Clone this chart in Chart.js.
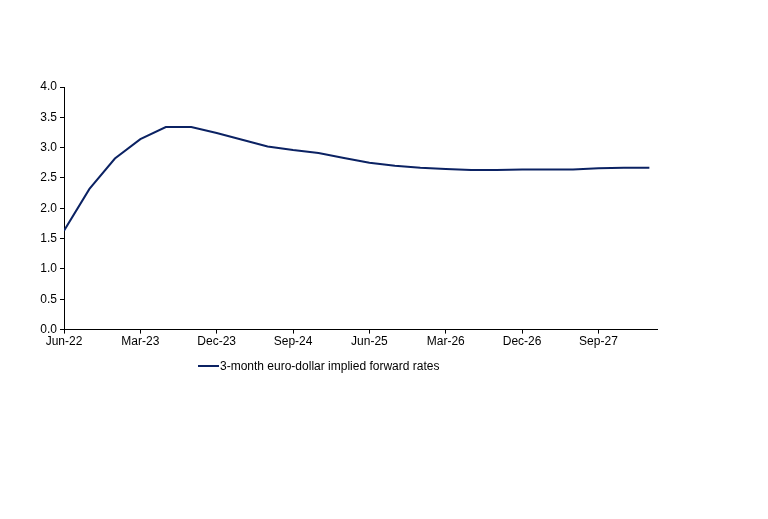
<!DOCTYPE html>
<html>
<head>
<meta charset="utf-8">
<script src="https://cdn.jsdelivr.net/npm/chart.js@4/dist/chart.umd.min.js"></script>
<style>
  body { margin: 0; background: #fff; }
  #wrap { position: relative; width: 768px; height: 519px; }
  #legend { position: absolute; left: 198px; top: 359px; font: 12px "Liberation Sans", Arial, sans-serif; color: #000; display: flex; align-items: center; }
  #legend span.line { display: inline-block; width: 21px; height: 2px; background: #0b2263; margin-right: 1px; }
</style>
</head>
<body>
<div id="wrap">
  <canvas id="chart" width="768" height="519"></canvas>
  <div id="legend"><span class="line"></span><span id="legendText"></span></div>
</div>
<script>
// quarterly points, Jun-22 .. Mar-28
const quarters = ['Jun-22', 'Sep-22', 'Dec-22', 'Mar-23', 'Jun-23', 'Sep-23', 'Dec-23', 'Mar-24',
    'Jun-24', 'Sep-24', 'Dec-24', 'Mar-25', 'Jun-25', 'Sep-25', 'Dec-25', 'Mar-26',
    'Jun-26', 'Sep-26', 'Dec-26', 'Mar-27', 'Jun-27', 'Sep-27', 'Dec-27', 'Mar-28'];
const rates = [1.63, 2.32, 2.82, 3.14, 3.34, 3.34, 3.24, 3.13,
    3.02, 2.96, 2.91, 2.83, 2.75, 2.70, 2.67, 2.65,
    2.63, 2.63, 2.64, 2.64, 2.64, 2.66, 2.67, 2.67];
const seriesName = '3-month euro-dollar implied forward rates';
const yTicks = [0, 0.5, 1, 1.5, 2, 2.5, 3, 3.5, 4];

document.getElementById('legendText').textContent = seriesName;

const points = quarters.map((q, i) => ({ x: i, y: rates[i] }));
const navy = '#0b2263';
const font = { family: '"Liberation Sans", Arial, sans-serif', size: 12 };

const config = {
    type: 'line',
    data: {
        datasets: [{
            label: seriesName,
            data: points,
            borderColor: navy,
            backgroundColor: navy,
            borderWidth: 2,
            pointRadius: 0,
            tension: 0
        }]
    },
    options: {
        responsive: false,
        animation: false,
        layout: {
            padding: { top: 87, right: 111, bottom: 169, left: 0 }
        },
        plugins: {
            legend: { display: false },
            tooltip: { enabled: false }
        },
        scales: {
            x: {
                type: 'linear',
                min: 0,
                max: 23.3,
                border: { display: true, color: '#000', width: 1 },
                grid: { drawOnChartArea: false, drawTicks: true, tickLength: 4, color: '#000' },
                ticks: {
                    stepSize: 3,
                    includeBounds: false,
                    maxRotation: 0,
                    autoSkip: false,
                    color: '#000',
                    font: font,
                    padding: 1,
                    callback: (v) => quarters[v] || ''
                }
            },
            y: {
                min: 0,
                max: 4,
                afterFit: (scale) => { scale.width = 64; },
                afterBuildTicks: (scale) => { scale.ticks = yTicks.map(v => ({ value: v })); },
                border: { display: true, color: '#000', width: 1 },
                grid: { drawOnChartArea: false, drawTicks: true, tickLength: 4, color: '#000' },
                ticks: {
                    color: '#000',
                    font: font,
                    padding: 3,
                    callback: (v) => v.toFixed(1)
                }
            }
        }
    }
};
var chart = document.getElementById('chart');
var myChart = new Chart(chart, config);
</script>
</body>
</html>
